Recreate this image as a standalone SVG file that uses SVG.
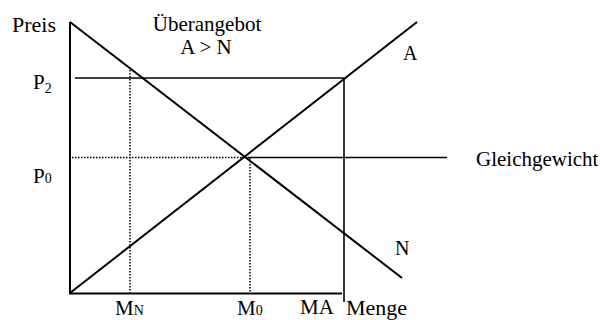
<svg xmlns="http://www.w3.org/2000/svg" width="600" height="320" viewBox="0 0 600 320">
<style>
text{font-family:"Liberation Serif","Times New Roman",serif;fill:#000;font-size:21px}
.sub{font-size:14px}
.solid{stroke:#000;stroke-width:2;fill:none}
.thin{stroke:#000;stroke-width:1.6;fill:none}
.dot{stroke:#000;stroke-width:1.5;stroke-dasharray:1.5 1.5;fill:none}
</style>
<rect width="600" height="320" fill="#fff"/>
<g id="axes">
<line class="solid" x1="70" y1="22" x2="70" y2="294"/>
<line class="solid" x1="69" y1="293.5" x2="342" y2="293.5"/>
</g>
<g id="curves">
<line class="solid" x1="70" y1="22" x2="402" y2="278"/>
<line class="solid" x1="70" y1="293" x2="417" y2="22"/>
</g>
<g id="guides">
<line class="thin" x1="75" y1="78" x2="344" y2="78"/>
<line class="thin" x1="344" y1="78" x2="344" y2="302"/>
<line class="dot" x1="130" y1="70" x2="130" y2="293"/>
<line class="dot" x1="72" y1="157.5" x2="248" y2="157.5"/>
<line class="thin" x1="248" y1="157.5" x2="447" y2="157.5"/>
<line class="dot" x1="250" y1="158" x2="250" y2="293"/>
</g>
<g id="labels">
<text x="12" y="32" style="font-size:22px">Preis</text>
<text x="207" y="31" text-anchor="middle">Überangebot</text>
<text x="206" y="54" text-anchor="middle">A &gt; N</text>
<text x="403" y="60" style="font-size:20px">A</text>
<text x="395" y="255" style="font-size:20px">N</text>
<text x="476" y="165.5">Gleichgewicht</text>
<text x="33" y="89">P<tspan class="sub" dy="4">2</tspan></text>
<text x="33" y="183">P<tspan class="sub">0</tspan></text>
<text x="115" y="315">M<tspan class="sub">N</tspan></text>
<text x="237" y="315">M<tspan class="sub">0</tspan></text>
<text x="300" y="314">MA</text>
<text x="346" y="315" style="font-size:22px">Menge</text>
</g>
</svg>
